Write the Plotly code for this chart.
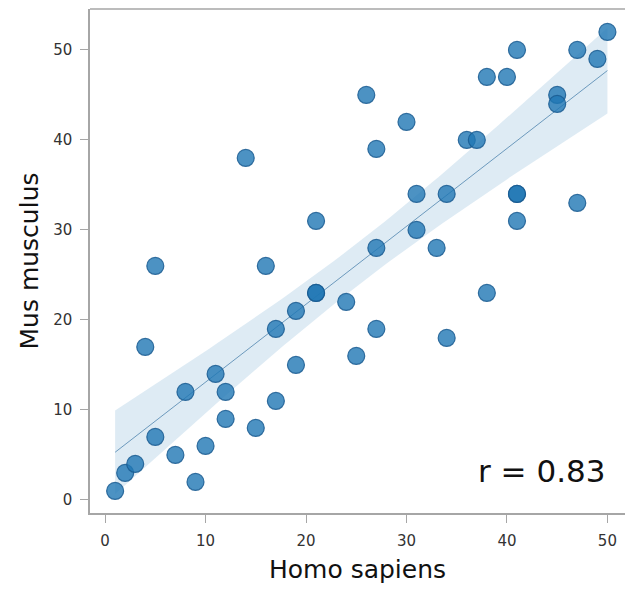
import numpy as np
import plotly.graph_objects as go

# Paired ranks for each gene in the two species
homo_sapiens = [1, 2, 3, 4, 5, 5, 7, 8, 9, 10, 11, 12, 12, 14, 15, 16, 17, 17, 19, 19,
                21, 21, 21, 24, 25, 26, 27, 27, 27, 30, 31, 31, 33, 34, 34, 36, 37, 38, 38, 40,
                41, 41, 41, 41, 45, 45, 47, 47, 49, 50]
mus_musculus = [1, 3, 4, 17, 7, 26, 5, 12, 2, 6, 14, 12, 9, 38, 8, 26, 19, 11, 21, 15,
                23, 23, 31, 22, 16, 45, 39, 28, 19, 42, 34, 30, 28, 34, 18, 40, 40, 47, 23, 47,
                50, 34, 34, 31, 45, 44, 50, 33, 49, 52]

x_ticks = [0, 10, 20, 30, 40, 50]
y_ticks = [0, 10, 20, 30, 40, 50]
r_label = "r = 0.83"

x = np.array(homo_sapiens, dtype=float)
y = np.array(mus_musculus, dtype=float)

# Least-squares fit with a 95% confidence band for the mean
n = len(x)
slope, intercept = np.polyfit(x, y, 1)
xs = np.linspace(x.min(), x.max(), 100)
fit = intercept + slope * xs
resid = y - (intercept + slope * x)
s = np.sqrt(np.sum(resid ** 2) / (n - 2))
t_crit = 2.0106
se = s * np.sqrt(1.0 / n + (xs - x.mean()) ** 2 / np.sum((x - x.mean()) ** 2))
upper = fit + t_crit * se
lower = fit - t_crit * se

fig = go.Figure()

fig.add_trace(go.Scatter(
    x=np.concatenate([xs, xs[::-1]]),
    y=np.concatenate([upper, lower[::-1]]),
    fill="toself",
    fillcolor="rgba(31,119,180,0.15)",
    line=dict(width=0),
    hoverinfo="skip",
    showlegend=False,
))

fig.add_trace(go.Scatter(
    x=xs, y=fit, mode="lines",
    line=dict(color="rgba(70,125,170,0.75)", width=1),
    showlegend=False,
))

fig.add_trace(go.Scatter(
    x=x, y=y, mode="markers",
    marker=dict(size=17, color="rgba(31,119,180,0.8)",
                line=dict(color="rgba(25,90,145,0.85)", width=1.2)),
    showlegend=False,
))

fig.add_annotation(
    x=50, y=3.2, xref="x", yref="y",
    text=r_label, showarrow=False,
    xanchor="right", yanchor="middle",
    font=dict(family="DejaVu Sans", size=31, color="#111111"),
)

axis_common = dict(
    showgrid=False, zeroline=False,
    showline=True, linecolor="#a6a6a6", linewidth=1.5,
    ticks="outside", ticklen=8, tickwidth=1, tickcolor="#a6a6a6",
    ticklabelstandoff=5,
    tickfont=dict(family="DejaVu Sans", size=15, color="#333333"),
)

fig.update_xaxes(
    **axis_common,
    range=[-1.5, 51.75],
    tickvals=x_ticks,
    title=dict(text="Homo sapiens", font=dict(family="DejaVu Sans", size=25, color="#111111"),
               standoff=12),
)
fig.update_yaxes(
    **axis_common,
    range=[-1.45, 54.55],
    tickvals=y_ticks,
    title=dict(text="Mus musculus", font=dict(family="DejaVu Sans", size=25, color="#111111"),
               standoff=7),
)

fig.add_shape(type="line", xref="paper", yref="paper", x0=0, x1=1, y0=1, y1=1,
              line=dict(color="#a6a6a6", width=1.5))

fig.update_layout(
    width=625, height=589,
    margin=dict(l=90, r=0, t=9, b=76),
    plot_bgcolor="white", paper_bgcolor="white",
    showlegend=False,
)

fig.write_html("out.html")
